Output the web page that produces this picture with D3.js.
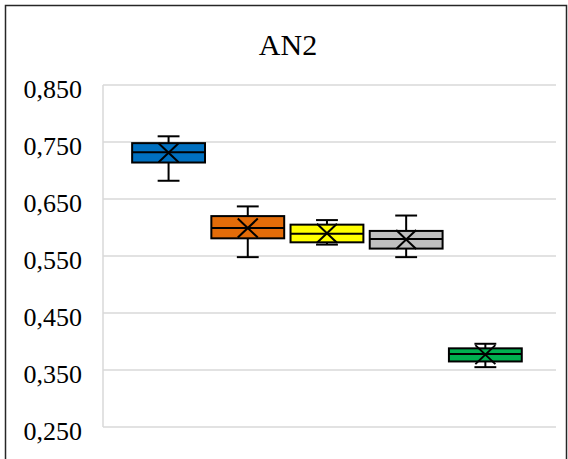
<!DOCTYPE html>
<html><head><meta charset="utf-8">
<script src="https://cdn.jsdelivr.net/npm/d3@7"></script>
<style>body{margin:0;background:#fff;} svg{display:block;} text{font-family:"Liberation Serif","Times New Roman",serif;}</style>
</head><body>
<svg id="c" width="568" height="459"></svg>
<script>
const title = "AN2";
const series = ["S1","S2","S3","S4","S5"];
const colors = ["#0070C0","#E36C09","#FFFF00","#BFBFBF","#00B050"];
const minV  = [0.682, 0.548, 0.570, 0.548, 0.355];
const q1V   = [0.714, 0.581, 0.574, 0.563, 0.365];
const medV  = [0.732, 0.599, 0.589, 0.580, 0.378];
const q3V   = [0.748, 0.620, 0.605, 0.594, 0.388];
const maxV  = [0.760, 0.637, 0.613, 0.621, 0.396];
const meanV = [0.731, 0.599, 0.590, 0.579, 0.377];
const yTicks = [0.25,0.35,0.45,0.55,0.65,0.75,0.85];

const svg = d3.select("#c");
const L=103, R=556, T=85, B=427;
const y = d3.scaleLinear().domain([0.25,0.85]).range([B,T]);
const x = d3.scaleBand().domain(series).range([L,R]).paddingInner(0.08).paddingOuter(0.4).align(0.46);

// outer border
svg.append("path").attr("d","M5.5,459 V5.5 H566.5 V459").attr("fill","none").attr("stroke","#262626").attr("stroke-width",1.5);

// title
svg.append("text").attr("x",288).attr("y",55).attr("text-anchor","middle")
  .attr("font-size",30).attr("fill","#000").text(title);

// gridlines
svg.append("g").selectAll("line").data(yTicks).join("line")
  .attr("x1",L).attr("x2",R).attr("y1",d=>y(d)).attr("y2",d=>y(d))
  .attr("stroke","#d9d9d9").attr("stroke-width",1.5);
svg.append("line").attr("x1",L).attr("x2",L).attr("y1",T).attr("y2",B).attr("stroke","#d9d9d9").attr("stroke-width",1.5);

// axis labels
const fmt = d => d3.format(".3f")(d).replace(".",",");
svg.append("g").selectAll("text").data(yTicks).join("text")
  .attr("x",82).attr("y",d=>y(d)+12.5).attr("text-anchor","end")
  .attr("font-size",26).attr("fill","#000").text(fmt);

// boxes
const bw = x.bandwidth(), cap = bw*0.3;
const g = svg.append("g").selectAll("g").data(series).join("g");
g.each(function(s,i){
  const e = d3.select(this), x0 = x(s), cx = x0+bw/2;
  const ln = (x1,y1,x2,y2)=>e.append("line").attr("x1",x1).attr("y1",y1).attr("x2",x2).attr("y2",y2).attr("stroke","#000").attr("stroke-width",2);
  ln(cx,y(maxV[i]),cx,y(q3V[i]));
  ln(cx,y(q1V[i]),cx,y(minV[i]));
  ln(cx-cap/2,y(maxV[i]),cx+cap/2,y(maxV[i]));
  ln(cx-cap/2,y(minV[i]),cx+cap/2,y(minV[i]));
  e.append("rect").attr("x",x0).attr("y",y(q3V[i])).attr("width",bw).attr("height",y(q1V[i])-y(q3V[i]))
    .attr("fill",colors[i]).attr("stroke","#000").attr("stroke-width",2);
  ln(x0,y(medV[i]),x0+bw,y(medV[i]));
  const my = y(meanV[i]), hw=10, hh=9.5;
  ln(cx-hw,my-hh,cx+hw,my+hh);
  ln(cx-hw,my+hh,cx+hw,my-hh);
});
</script>
</body></html>
